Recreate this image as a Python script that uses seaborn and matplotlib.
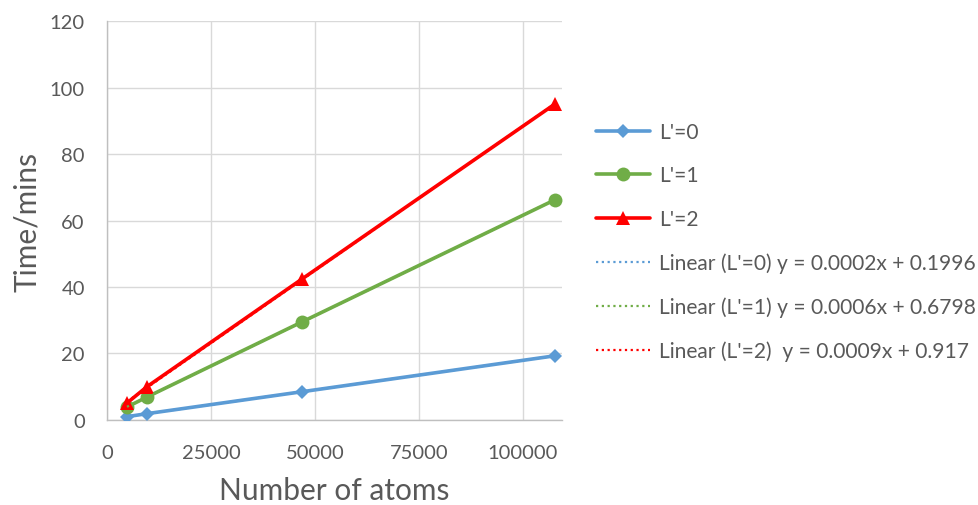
import numpy as np
import pandas as pd
import matplotlib
matplotlib.use("Agg")
import matplotlib.pyplot as plt
import seaborn as sns

# Benchmark timings
atoms = [4800, 9600, 46900, 107700]
time_l0 = [1.0, 1.9, 8.5, 19.3]
time_l1 = [3.9, 6.9, 29.5, 66.2]
time_l2 = [5.1, 10.0, 42.4, 95.0]

series_names = ["L'=0", "L'=1", "L'=2"]
fit_labels = ["Linear (L'=0) y = 0.0002x + 0.1996",
              "Linear (L'=1) y = 0.0006x + 0.6798",
              "Linear (L'=2)  y = 0.0009x + 0.917"]
x_ticks = [0, 25000, 50000, 75000, 100000]
y_ticks = [0, 20, 40, 60, 80, 100, 120]

colors = ["#5B9BD5", "#70AD47", "#FF0000"]
markers = ["D", "o", "^"]
msizes = [7, 10, 10]

sns.set_style("white")
plt.rcParams["font.family"] = ["Lato", "DejaVu Sans"]
text_gray = "#595959"

fig = plt.figure(figsize=(9.79, 5.06), dpi=100)
ax = fig.add_axes([0.1093, 0.168, 0.465, 0.7885])

df = pd.DataFrame({
    "atoms": atoms * 3,
    "time": time_l0 + time_l1 + time_l2,
    "series": sum([[n] * len(atoms) for n in series_names], []),
})

for name, c, m, ms in zip(series_names, colors, markers, msizes):
    sub = df[df["series"] == name]
    sns.lineplot(data=sub, x="atoms", y="time", color=c, marker=m,
                 markersize=ms, markeredgewidth=0, linewidth=2.6, ax=ax,
                 label=name, zorder=3)

for name, c, lab in zip(series_names, colors, fit_labels):
    sub = df[df["series"] == name]
    k, b = np.polyfit(sub["atoms"], sub["time"], 1)
    xs = np.array([sub["atoms"].min(), sub["atoms"].max()])
    ax.plot(xs, k * xs + b, linestyle=(0, (1, 1.6)), color=c,
            linewidth=1.6, zorder=4, label=lab)

ax.set_xlim(0, 109500)
ax.set_ylim(0, 120)
ax.set_xticks(x_ticks)
ax.set_yticks(y_ticks)
ax.grid(True, color="#D9D9D9", linewidth=1)
ax.set_axisbelow(True)
for s in ["top", "right"]:
    ax.spines[s].set_visible(False)
for s in ["left", "bottom"]:
    ax.spines[s].set_color("#BFBFBF")
    ax.spines[s].set_linewidth(1)
ax.tick_params(axis="both", length=0, labelsize=14.5, labelcolor=text_gray)
ax.tick_params(axis="y", pad=16)
ax.tick_params(axis="x", pad=17)
ax.set_xlabel("Number of atoms", fontsize=21.5, color=text_gray, labelpad=11)
ax.set_ylabel("Time/mins", fontsize=21.5, color=text_gray, labelpad=6)

handles, labels = ax.get_legend_handles_labels()
ax.legend(handles, labels, loc="upper left", bbox_to_anchor=(1.055, 0.768),
          frameon=False, fontsize=15.1, labelcolor=text_gray,
          handlelength=2.6, handletextpad=0.42, labelspacing=1.12,
          borderaxespad=0)

fig.savefig("out.png", dpi=100, facecolor="white")
